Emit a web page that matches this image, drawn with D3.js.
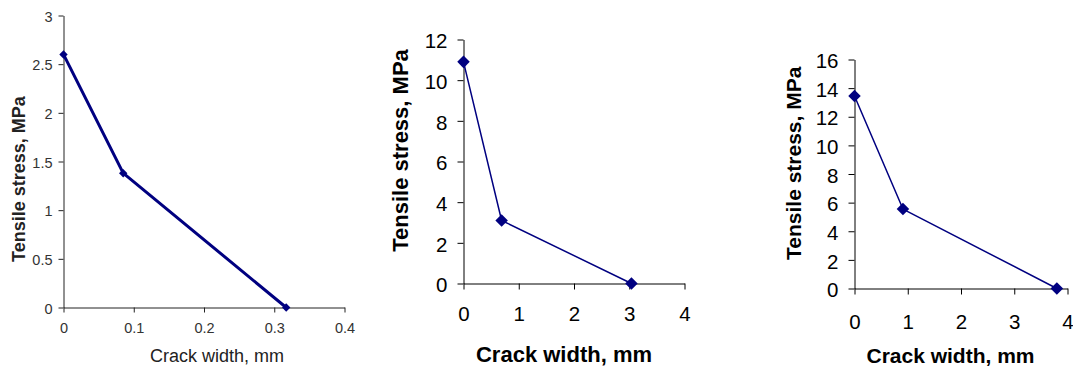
<!DOCTYPE html>
<html>
<head>
<meta charset="utf-8">
<script src="https://cdn.jsdelivr.net/npm/d3@7"></script>
<style>
  html, body { margin: 0; padding: 0; background: #fff; }
  svg { display: block; font-family: "Liberation Sans", Arial, sans-serif; }
</style>
</head>
<body>
<svg id="chart" width="1073" height="369"></svg>
<script>
// Crack width (mm) vs tensile stress (MPa), three softening curves
const crackWidthA = [0, 0.085, 0.317];
const stressA     = [2.6, 1.38, 0];
const crackWidthB = [0, 0.69, 3.04];
const stressB     = [10.9, 3.1, 0];
const crackWidthC = [0, 0.91, 3.8];
const stressC     = [13.45, 5.55, 0];

const xTicksA = [0, 0.1, 0.2, 0.3, 0.4];
const yTicksA = [0, 0.5, 1, 1.5, 2, 2.5, 3];
const xTicksB = [0, 1, 2, 3, 4];
const yTicksB = [0, 2, 4, 6, 8, 10, 12];
const xTicksC = [0, 1, 2, 3, 4];
const yTicksC = [0, 2, 4, 6, 8, 10, 12, 14, 16];

const xTitle = "Crack width, mm";
const yTitle = "Tensile stress, MPa";

const svg = d3.select("#chart");
const navy = "#000080";

function panel(p) {
  const x = d3.scaleLinear().domain(p.xDomain).range([p.left, p.right]);
  const y = d3.scaleLinear().domain(p.yDomain).range([p.bottom, p.top]);
  const g = svg.append("g");

  const xAxis = d3.axisBottom(x).tickValues(p.xTicks).tickFormat(d3.format("~g"))
    .tickSize(p.tick).tickSizeOuter(0).tickPadding(p.xPad);
  const yAxis = d3.axisLeft(y).tickValues(p.yTicks).tickFormat(d3.format("~g"))
    .tickSize(p.tick).tickSizeOuter(0).tickPadding(p.yPad);

  const gx = g.append("g").attr("transform", `translate(0,${p.bottom})`).call(xAxis);
  const gy = g.append("g").attr("transform", `translate(${p.left},0)`).call(yAxis);
  [gx, gy].forEach(a => {
    a.select(".domain").attr("stroke", p.axisColor).attr("stroke-width", 1);
    a.selectAll(".tick line").attr("stroke", p.axisColor);
    a.selectAll(".tick text").attr("fill", p.tickColor)
      .style("font-size", p.tickFont + "px").style("font-family", "inherit");
  });
  gy.selectAll(".tick text").attr("dy", "0.4em");

  const pts = p.xs.map((v, i) => [v, p.ys[i]]);
  g.append("path")
    .datum(pts)
    .attr("fill", "none")
    .attr("stroke", navy)
    .attr("stroke-width", p.lineWidth)
    .attr("stroke-linejoin", "round")
    .attr("d", d3.line().x(d => x(d[0])).y(d => y(d[1])));

  const sym = d3.symbol().type(d3.symbolDiamond2).size(p.markerSize);
  g.selectAll(".pt").data(pts).join("path")
    .attr("class", "pt")
    .attr("fill", navy)
    .attr("transform", d => `translate(${x(d[0])},${y(d[1])})`)
    .attr("d", sym);

  g.append("text")
    .attr("x", (p.left + p.right) / 2 + p.xTitleShift)
    .attr("y", p.xTitleY)
    .attr("text-anchor", "middle")
    .attr("fill", p.titleColor)
    .style("font-size", p.xTitleFont + "px")
    .style("font-weight", p.xTitleWeight)
    .text(xTitle);

  g.append("text")
    .attr("transform", `translate(${p.yTitleX},${p.yTitleMid}) rotate(-90)`)
    .attr("text-anchor", "middle")
    .attr("fill", p.titleColor)
    .style("font-size", p.yTitleFont + "px")
    .style("font-weight", "bold")
    .text(yTitle);
}

panel({
  xs: crackWidthA, ys: stressA, xTicks: xTicksA, yTicks: yTicksA,
  xDomain: [0, 0.4], yDomain: [0, 3],
  left: 63.5, right: 344.5, top: 15.5, bottom: 307.5,
  tick: 5, xPad: 10, yPad: 6,
  axisColor: "#222", tickColor: "#333", titleColor: "#222",
  tickFont: 14.5, lineWidth: 3, markerSize: 45,
  xTitleY: 361.5, xTitleShift: 13, xTitleFont: 18, xTitleWeight: "normal",
  yTitleX: 25, yTitleMid: 179, yTitleFont: 18
});

panel({
  xs: crackWidthB, ys: stressB, xTicks: xTicksB, yTicks: yTicksB,
  xDomain: [0, 4], yDomain: [0, 12],
  left: 463.5, right: 684.5, top: 39.5, bottom: 283.5,
  tick: 6, xPad: 17, yPad: 10,
  axisColor: "#000", tickColor: "#000", titleColor: "#000",
  tickFont: 20.5, lineWidth: 1.5, markerSize: 100,
  xTitleY: 361.5, xTitleShift: -10, xTitleFont: 22, xTitleWeight: "bold",
  yTitleX: 408, yTitleMid: 150.5, yTitleFont: 22
});

panel({
  xs: crackWidthC, ys: stressC, xTicks: xTicksC, yTicks: yTicksC,
  xDomain: [0, 4], yDomain: [0, 16],
  left: 854.5, right: 1067.5, top: 59.5, bottom: 288.5,
  tick: 6, xPad: 20, yPad: 10,
  axisColor: "#000", tickColor: "#000", titleColor: "#000",
  tickFont: 20.5, lineWidth: 1.5, markerSize: 100,
  xTitleY: 363, xTitleShift: -10.5, xTitleFont: 21, xTitleWeight: "bold",
  yTitleX: 801, yTitleMid: 163.3, yTitleFont: 21
});
</script>
</body>
</html>
